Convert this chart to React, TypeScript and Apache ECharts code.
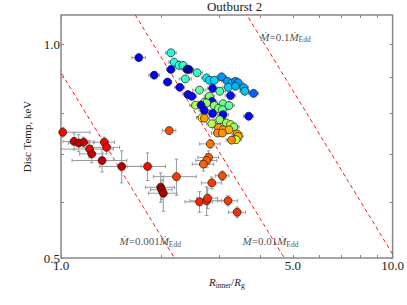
import React, { useEffect, useRef } from 'react';
import * as echarts from 'echarts';

// ---- data (R_inner / R_g, disc temperature keV) ----
const rInner = [
  1.716, 2.145, 1.910, 2.096, 2.145, 2.194, 2.270, 2.333, 2.398, 2.431,
  2.371, 2.281, 2.573, 2.749, 2.801, 2.898, 3.051, 3.173, 3.283, 3.358,
  3.421, 3.195, 3.358, 3.557, 3.581, 3.808, 2.864, 3.011, 2.616, 2.414,
  2.481, 3.245, 2.801, 2.850, 2.706, 2.749, 2.545, 2.644, 2.898, 3.081,
  3.210, 2.984, 3.066, 2.706, 2.864, 3.081, 3.681, 2.662, 2.706, 3.011,
  2.850, 3.151, 3.245, 3.321, 2.984, 3.081, 3.210, 2.120, 2.964, 3.066,
  3.398, 3.421, 3.374, 3.268, 2.819, 2.787, 2.749, 2.688, 2.229, 3.066,
  2.850, 2.616, 2.749, 2.768, 3.188, 3.398,
  1.012, 1.095, 1.131, 1.170, 1.219, 1.238, 1.351, 1.372, 1.330, 1.524,
  1.824, 1.998, 2.012, 2.035,
];
const discTemp = [
  0.958, 0.973, 0.905, 0.885, 0.922, 0.944, 0.934, 0.934, 0.922, 0.922,
  0.894, 0.870, 0.912, 0.897, 0.890, 0.890, 0.900, 0.887, 0.883, 0.887,
  0.883, 0.870, 0.873, 0.869, 0.859, 0.853, 0.867, 0.859, 0.862, 0.850,
  0.845, 0.847, 0.845, 0.831, 0.829, 0.827, 0.821, 0.821, 0.820, 0.825,
  0.820, 0.812, 0.809, 0.807, 0.799, 0.796, 0.792, 0.788, 0.787, 0.783,
  0.773, 0.775, 0.771, 0.765, 0.763, 0.758, 0.758, 0.756, 0.750, 0.750,
  0.748, 0.742, 0.734, 0.733, 0.724, 0.693, 0.686, 0.678, 0.651, 0.653,
  0.638, 0.600, 0.602, 0.607, 0.602, 0.580,
  0.752, 0.730, 0.726, 0.728, 0.712, 0.701, 0.728, 0.716, 0.686, 0.673,
  0.673, 0.629, 0.624, 0.617,
];
const rErr = [
  0.08, 0.08, 0.07, 0.06, 0.06, 0.08, 0.08, 0.08, 0.08, 0.08,
  0.10, 0.08, 0.10, 0.10, 0.10, 0.10, 0.10, 0.12, 0.12, 0.12,
  0.12, 0.12, 0.12, 0.12, 0.12, 0.13, 0.10, 0.12, 0.12, 0.08,
  0.08, 0.12, 0.10, 0.10, 0.10, 0.10, 0.10, 0.10, 0.10, 0.12,
  0.12, 0.10, 0.12, 0.10, 0.10, 0.12, 0.13, 0.10, 0.10, 0.12,
  0.10, 0.12, 0.12, 0.12, 0.12, 0.12, 0.12, 0.10, 0.12, 0.12,
  0.12, 0.12, 0.12, 0.12, 0.20, 0.20, 0.20, 0.20, 0.33, 0.14,
  0.20, 0.25, 0.30, 0.20, 0.22, 0.20,
  0.21, 0.08, 0.08, 0.09, 0.22, 0.10, 0.10, 0.13, 0.25, 0.22,
  0.24, 0.20, 0.15, 0.20,
];
const tErr = [
  0.008, 0.010, 0.008, 0.008, 0.008, 0.008, 0.008, 0.008, 0.008, 0.008,
  0.010, 0.008, 0.008, 0.008, 0.008, 0.008, 0.008, 0.008, 0.008, 0.008,
  0.008, 0.008, 0.008, 0.008, 0.008, 0.008, 0.008, 0.008, 0.008, 0.008,
  0.008, 0.008, 0.008, 0.008, 0.008, 0.008, 0.008, 0.008, 0.008, 0.008,
  0.008, 0.008, 0.008, 0.008, 0.008, 0.008, 0.008, 0.008, 0.008, 0.008,
  0.008, 0.008, 0.008, 0.008, 0.008, 0.008, 0.008, 0.008, 0.008, 0.008,
  0.008, 0.008, 0.008, 0.008, 0.010, 0.015, 0.015, 0.015, 0.038, 0.010,
  0.012, 0.020, 0.028, 0.020, 0.010, 0.010,
  0.012, 0.020, 0.020, 0.012, 0.020, 0.020, 0.012, 0.015, 0.025, 0.035,
  0.030, 0.030, 0.020, 0.035,
];
// colour parameter (jet colormap, 0 = early/blue, 1 = late/dark red)
const epoch = [
  0.12, 0.40, 0.12, 0.12, 0.12, 0.40, 0.42, 0.42, 0.03, 0.05,
  0.43, 0.12, 0.42, 0.36, 0.34, 0.34, 0.27, 0.28, 0.30, 0.27,
  0.28, 0.33, 0.30, 0.30, 0.32, 0.22, 0.12, 0.45, 0.47, 0.13,
  0.13, 0.14, 0.50, 0.12, 0.52, 0.52, 0.55, 0.12, 0.51, 0.48,
  0.47, 0.51, 0.47, 0.12, 0.12, 0.12, 0.13, 0.62, 0.72, 0.52,
  0.55, 0.52, 0.57, 0.52, 0.72, 0.72, 0.70, 0.80, 0.74, 0.73,
  0.72, 0.70, 0.58, 0.74, 0.76, 0.78, 0.78, 0.78, 0.82, 0.80,
  0.82, 0.84, 0.84, 0.83, 0.82, 0.83,
  0.87, 0.93, 0.93, 0.93, 0.88, 0.93, 0.88, 0.88, 0.94, 0.94,
  0.87, 0.96, 0.96, 0.95,
];

// constant accretion-rate lines (endpoints, [R, T])
const line0001 = [[0.8, 1.082], [2.6, 0.44]];
const line001 = [[1.4, 1.261], [5.5, 0.4446]];
const line01 = [[3.0, 1.274], [12, 0.4403]];
const lineLabels = ['0.001', '0.01', '0.1'];
const labelAnchorsR = [1.4967, 3.516, 3.977];
const labelAnchorsT = [0.528, 0.528, 1.0247];

const xTickValues = [1, 2, 3, 4, 5, 6, 7, 8, 9, 10];
const xLabelValues = [1, 5, 10];
const yTickValues = [0.5, 0.6, 0.7, 0.8, 0.9, 1.0];
const yLabelValues = [0.5, 1.0];
const xRange = [1, 10];
const yRange = [0.5, 1.1];

const jet = ['#00007f', '#0000ff', '#007fff', '#00ffff', '#7fff7f', '#ffff00', '#ff7f00', '#ff0000', '#7f0000'];

const L = Math.log10;
const SERIF = '"Liberation Serif", "DejaVu Serif", serif';

export default function App() {
  const ref = useRef<HTMLDivElement>(null);
  useEffect(() => {
    document.body.style.margin = '0';
    if (!ref.current) return;
    const chart = echarts.init(ref.current, null, { renderer: 'svg' });

    const pts = rInner.map((r, i) => [L(r), L(discTemp[i]), epoch[i]]);
    const errs = rInner.map((r, i) => [
      L(r), L(discTemp[i]),
      L(r - rErr[i]), L(r + rErr[i]),
      L(discTemp[i] - tErr[i]), L(discTemp[i] + tErr[i]),
    ]);
    const toLog = (arr: number[][]) => arr.map(([r, t]) => [L(r), L(t)]);
    const dashStyle = { color: '#ff1a1a', width: 1, type: [4, 3] as any };
    const fmt = (v: number) => Math.pow(10, v).toFixed(1);
    const tickStyle = { color: '#888', width: 1 };
    const labelStyle = { fontFamily: SERIF, fontSize: 13, color: '#222' };
    const subRich = {
      i: { fontFamily: SERIF, fontStyle: 'italic', fontSize: 11, color: '#222' },
      n: { fontFamily: SERIF, fontSize: 11, color: '#222' },
      s: { fontFamily: SERIF, fontSize: 7.5, color: '#222', padding: [6, 0, 0, 0] },
    };
    const noLine = { show: false, onZero: false };

    const option: any = {
      animation: false,
      title: {
        text: 'Outburst 2', left: 229.5, top: -5, textAlign: 'center',
        textStyle: { fontFamily: SERIF, fontSize: 13, fontWeight: 'normal', color: '#222' },
      },
      grid: { left: 61, right: 9, top: 15, bottom: 47, show: true, borderColor: '#888', borderWidth: 1.5 },
      xAxis: [
        {
          type: 'value', min: L(xRange[0]), max: L(xRange[1]), position: 'bottom',
          axisLine: noLine, splitLine: { show: false },
          axisTick: { show: true, inside: true, length: 3, customValues: xTickValues.map(L), lineStyle: tickStyle },
          axisLabel: { customValues: xLabelValues.map(L), formatter: fmt, margin: 1, ...labelStyle },
          name: '{i|R}{s|inner}{n|/}{i|R}{s|g}', nameLocation: 'middle', nameGap: 12,
          nameTextStyle: { rich: subRich },
        },
        {
          type: 'value', min: L(xRange[0]), max: L(xRange[1]), position: 'top',
          axisLine: noLine, splitLine: { show: false },
          axisTick: { show: true, inside: true, length: 3, customValues: xTickValues.map(L), lineStyle: tickStyle },
          axisLabel: { show: false },
        },
      ],
      yAxis: [
        {
          type: 'value', min: L(yRange[0]), max: L(yRange[1]), position: 'left',
          axisLine: noLine, splitLine: { show: false },
          axisTick: { show: true, inside: true, length: 3, customValues: yTickValues.map(L), lineStyle: tickStyle },
          axisLabel: { customValues: yLabelValues.map(L), formatter: fmt, margin: 1, ...labelStyle },
          name: 'Disc Temp, keV', nameLocation: 'middle', nameGap: 21,
          nameTextStyle: { fontFamily: SERIF, fontSize: 11, color: '#222' },
        },
        {
          type: 'value', min: L(yRange[0]), max: L(yRange[1]), position: 'right',
          axisLine: noLine, splitLine: { show: false },
          axisTick: { show: true, inside: true, length: 3, customValues: yTickValues.map(L), lineStyle: tickStyle },
          axisLabel: { show: false },
        },
      ],
      visualMap: {
        show: false, type: 'continuous', seriesIndex: 4, dimension: 2, min: 0, max: 1,
        inRange: { color: jet },
      },
      series: [
        { type: 'line', data: toLog(line0001), symbol: 'none', lineStyle: dashStyle, clip: true, silent: true, z: 1 },
        { type: 'line', data: toLog(line001), symbol: 'none', lineStyle: dashStyle, clip: true, silent: true, z: 1 },
        { type: 'line', data: toLog(line01), symbol: 'none', lineStyle: dashStyle, clip: true, silent: true, z: 1 },
        {
          type: 'custom', data: errs, encode: { x: 0, y: 1 }, clip: true, silent: true, z: 2,
          renderItem: (_p: any, api: any) => {
            const x = api.value(0), y = api.value(1);
            const pL = api.coord([api.value(2), y]);
            const pR = api.coord([api.value(3), y]);
            const pB = api.coord([x, api.value(4)]);
            const pT = api.coord([x, api.value(5)]);
            const c = 1.8;
            const style = { stroke: '#9a9a9a', lineWidth: 1 };
            const ln = (x1: number, y1: number, x2: number, y2: number) => ({ type: 'line', shape: { x1, y1, x2, y2 }, style });
            return {
              type: 'group',
              children: [
                ln(pL[0], pL[1], pR[0], pR[1]),
                ln(pL[0], pL[1] - c, pL[0], pL[1] + c),
                ln(pR[0], pR[1] - c, pR[0], pR[1] + c),
                ln(pB[0], pB[1], pT[0], pT[1]),
                ln(pB[0] - c, pB[1], pB[0] + c, pB[1]),
                ln(pT[0] - c, pT[1], pT[0] + c, pT[1]),
              ],
            };
          },
        },
        {
          type: 'scatter', data: pts, symbolSize: 8, z: 3,
          itemStyle: { borderColor: '#1a1a1a', borderWidth: 0.7, opacity: 1 },
        },
        {
          type: 'scatter', z: 4, silent: true, symbolSize: 1,
          itemStyle: { color: 'transparent' },
          data: labelAnchorsR.map((r, i) => ({ value: [L(r), L(labelAnchorsT[i])], name: lineLabels[i] })),
          label: {
            show: true, position: 'right', distance: 0,
            formatter: (p: any) => `{i|Ṁ}{n|=${p.name}}{i|Ṁ}{s|Edd}`,
            rich: subRich,
          },
        },
      ],
    };
    chart.setOption(option);
    return () => chart.dispose();
  }, []);
  return <div ref={ref} style={{ width: 407, height: 305 }} />;
}
